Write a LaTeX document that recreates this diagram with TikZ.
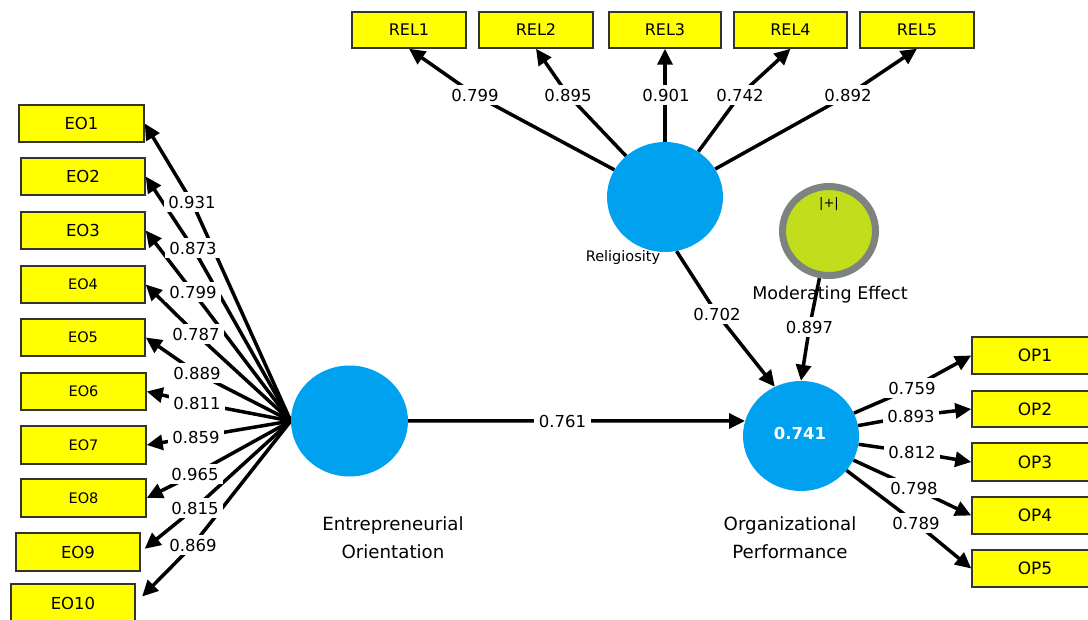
\documentclass[tikz,border=0pt]{standalone}
\usepackage{fontspec}
\setmainfont{DejaVu Sans}
\usetikzlibrary{shapes.geometric,arrows.meta,backgrounds}
\definecolor{lvblue}{RGB}{0,162,240}
\definecolor{boxyellow}{RGB}{255,255,0}
\definecolor{modfill}{RGB}{193,221,28}
\definecolor{modring}{RGB}{125,131,126}
\newcommand{\myfs}[1]{\fontsize{#1}{#1}\selectfont}
\begin{document}
\begin{tikzpicture}[x=1pt,y=-1pt,
  ind/.style={draw=black!80, line width=1.5pt, fill=boxyellow, inner sep=0pt, minimum height=37pt, minimum width=124pt},
  lv/.style={ellipse, fill=lvblue, inner sep=0pt, minimum width=117pt, minimum height=111pt},
  lbl/.style={fill=white, inner xsep=4.5pt, inner ysep=3.5pt, font=\myfs{16.5}},
  conn/.style={line width=3.5pt, black},
  arr/.style={conn, -{Triangle[length=16pt,width=15pt]}},
  ttl/.style={font=\myfs{18.2}, align=center}
]
\useasboundingbox (0,0) rectangle (1088,620);
\clip (0,0) rectangle (1088,620);

% latent variables
\node[lv] (eo) at (349.5,421) {};
\node[lv, minimum width=116pt, minimum height=110pt] (rel) at (665,197) {};
\node[lv, minimum width=116pt, minimum height=110pt] (op) at (801,436) {};
\node[ellipse, fill=modfill, draw=modring, line width=7pt, inner sep=0pt, minimum width=93pt, minimum height=89pt] (mod) at (829,231) {};
\node[font=\myfs{13}] (plus) at (829,204) {|+|};
\node[font=\bfseries\myfs{16.5}, text=white] (r2) at (800,433) {0.741};

% titles
\node[ttl] (eoname1) at (393,525) {Entrepreneurial};
\node[ttl] (eoname2) at (393,552) {Orientation};
\node[ttl] (opname1) at (790,525) {Organizational};
\node[ttl] (opname2) at (790,552) {Performance};
\node[font=\myfs{14.5}] (relname) at (623,258) {Religiosity};
\node[font=\myfs{17.5}] (modname) at (830,295) {Moderating Effect};

% EO indicators
\node[ind, minimum width=125pt, font=\myfs{16.5}] (EO1) at (81.5,123.5) {EO1};
\node[ind, font=\myfs{16.5}] (EO2) at (83,176.5) {EO2};
\node[ind, font=\myfs{16.5}] (EO3) at (83,230.5) {EO3};
\node[ind, font=\myfs{14.5}] (EO4) at (83,284.5) {EO4};
\node[ind, font=\myfs{14.5}] (EO5) at (83,337.5) {EO5};
\node[ind, minimum width=125pt, font=\myfs{14.5}] (EO6) at (83.5,391.5) {EO6};
\node[ind, minimum width=125pt, font=\myfs{14.5}, minimum height=38pt] (EO7) at (83.5,445) {EO7};
\node[ind, minimum width=125pt, font=\myfs{14.5}, minimum height=38pt] (EO8) at (83.5,498) {EO8};
\node[ind, font=\myfs{16.5}, minimum height=38pt] (EO9) at (78,552) {EO9};
\node[ind, font=\myfs{16.5}, minimum height=38pt] (EO10) at (73,603) {EO10};

% REL indicators
\node[ind, minimum width=114pt, minimum height=36pt, font=\myfs{16}] (REL1) at (409,30) {REL1};
\node[ind, minimum width=114pt, minimum height=36pt, font=\myfs{16}] (REL2) at (536,30) {REL2};
\node[ind, minimum width=112pt, minimum height=36pt, font=\myfs{16}] (REL3) at (665,30) {REL3};
\node[ind, minimum width=113pt, minimum height=36pt, font=\myfs{16}] (REL4) at (790.5,30) {REL4};
\node[ind, minimum width=114pt, minimum height=36pt, font=\myfs{16}] (REL5) at (917,30) {REL5};

% OP indicators
\node[ind, minimum width=126pt, font=\myfs{17}] (OP1) at (1035,355.5) {OP1};
\node[ind, minimum width=126pt, minimum height=36pt, font=\myfs{17}] (OP2) at (1035,409) {OP2};
\node[ind, minimum width=126pt, minimum height=38pt, font=\myfs{17}] (OP3) at (1035,462) {OP3};
\node[ind, minimum width=126pt, font=\myfs{17}] (OP4) at (1035,515.5) {OP4};
\node[ind, minimum width=126pt, font=\myfs{17}] (OP5) at (1035,568.5) {OP5};

% loading labels
\node[lbl] (te1) at (192,202) {0.931};
\node[lbl] (te2) at (193,248) {0.873};
\node[lbl] (te3) at (193,292) {0.799};
\node[lbl] (te4) at (196,334) {0.787};
\node[lbl] (te5) at (197,373) {0.889};
\node[lbl] (te6) at (197,403) {0.811};
\node[lbl] (te7) at (196,437) {0.859};
\node[lbl] (te8) at (195,474) {0.965};
\node[lbl] (te9) at (195,508) {0.815};
\node[lbl] (te10) at (193,545) {0.869};

\node[lbl] (tr1) at (475,95) {0.799};
\node[lbl] (tr2) at (568,95) {0.895};
\node[lbl] (tr3) at (666,95) {0.901};
\node[lbl] (tr4) at (740,95) {0.742};
\node[lbl] (tr5) at (848,95) {0.892};

\node[lbl] (to1) at (912,388) {0.759};
\node[lbl] (to2) at (911,416) {0.893};
\node[lbl] (to3) at (912,452) {0.812};
\node[lbl] (to4) at (914,488) {0.798};
\node[lbl] (to5) at (916,523) {0.789};

\node[lbl] (t761) at (562.5,421) {0.761};
\node[lbl] (t702) at (717,314) {0.702};
\node[lbl] (t897) at (809.5,327) {0.897};

% connectors
\begin{scope}[on background layer]
\draw[arr] (eo.west) -- (te1.center) -- (EO1.east);
\draw[arr] (eo.west) -- (te2.center) -- (EO2.east);
\draw[arr] (eo.west) -- (te3.center) -- (EO3.east);
\draw[arr] (eo.west) -- (te4.center) -- (EO4.east);
\draw[arr] (eo.west) -- (te5.center) -- (EO5.east);
\draw[arr] (eo.west) -- (te6.center) -- (EO6.east);
\draw[arr] (eo.west) -- (te7.center) -- (EO7.east);
\draw[arr] (eo.west) -- (te8.center) -- (EO8.east);
\draw[arr, shorten >=5pt] (eo.west) -- (te9.center) -- (EO9.east);
\draw[arr, shorten >=9pt] (eo.west) -- (te10.center) -- (EO10.east);

\draw[arr] (rel) -- (tr1.center) -- (REL1.south);
\draw[arr] (rel) -- (tr2.center) -- (REL2.south);
\draw[arr] (rel.north) -- (REL3.south);
\draw[arr] (rel) -- (tr4.center) -- (REL4.south);
\draw[arr] (rel) -- (tr5.center) -- (REL5.south);

\draw[arr] (op) -- (to1.center) -- (OP1.west);
\draw[arr] (op) -- (to2.center) -- (OP2.west);
\draw[arr] (op) -- (to3.center) -- (OP3.west);
\draw[arr] (op) -- (to4.center) -- (OP4.west);
\draw[arr] (op) -- (to5.center) -- (OP5.west);

\draw[arr] (eo.east) -- (t761.center) -- (op.165);
\draw[arr] (rel.-78) -- (t702.center) -- (op.118);
\draw[arr] (mod) -- (t897.center) -- (op.north);
\end{scope}
\end{tikzpicture}
\end{document}
